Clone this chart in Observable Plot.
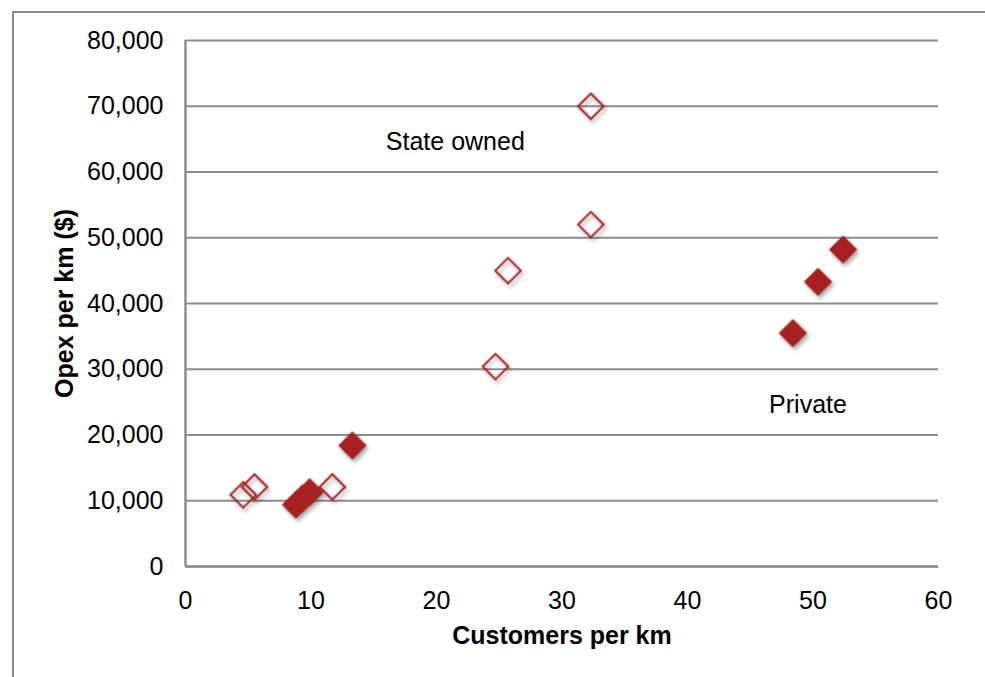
<!DOCTYPE html>
<html>
<head>
<meta charset="utf-8">
<script src="https://cdn.jsdelivr.net/npm/d3@7"></script>
<script src="https://cdn.jsdelivr.net/npm/@observablehq/plot@0.6"></script>
<style>
  html, body { margin: 0; padding: 0; background: white; overflow: hidden; }
  #wrap { position: relative; width: 985px; height: 677px; }
  #frame { position: absolute; left: 12px; top: 11px; right: -10px; bottom: -10px;
           border-top: 2px solid #8c8c8c; border-left: 2px solid #8c8c8c; pointer-events: none; z-index: 2; }
  .chart g[aria-label="dot"] { filter: drop-shadow(2px 3px 2px rgba(0,0,0,0.35)); }
</style>
</head>
<body>
<div id="wrap"><div id="frame"></div></div>
<script>
// Data
const stateX = [4.6, 5.5, 11.7, 24.7, 25.7, 32.3, 32.3];
const stateY = [10900, 12100, 12100, 30400, 45000, 52000, 70000];
const privateX = [8.8, 9.3, 9.9, 13.3, 48.4, 50.4, 52.4];
const privateY = [9400, 10300, 11300, 18400, 35500, 43300, 48200];

const xTicks = [0, 10, 20, 30, 40, 50, 60];
const yTicks = [0, 10000, 20000, 30000, 40000, 50000, 60000, 70000, 80000];

const labelText = ["State owned", "Private"];
const labelX = [21.5, 49.6];
const labelY = [64600, 24500];

const xTitle = "Customers per km";
const yTitle = "Opex per km ($)";

const stateData = stateX.map((x, i) => ({x, y: stateY[i]}));
const privateData = privateX.map((x, i) => ({x, y: privateY[i]}));
const labels = labelText.map((t, i) => ({t, x: labelX[i], y: labelY[i]}));

const red = "#a6211f";
const gray = "#8c8c8c";

const chart = Plot.plot({
  className: "chart",
  width: 985,
  height: 677,
  marginLeft: 185,
  marginRight: 47,
  marginTop: 40,
  marginBottom: 111,
  style: { fontFamily: "'Liberation Sans', Arial, sans-serif", color: "#000", background: "white" },
  x: { domain: [0, 60] },
  y: { domain: [0, 80000] },
  marks: [
    Plot.gridY(yTicks, { stroke: gray, strokeOpacity: 1, strokeWidth: 2 }),
    Plot.ruleX([0], { stroke: gray, strokeWidth: 2.5 }),
    Plot.ruleY([0], { stroke: gray, strokeWidth: 2.5 }),
    Plot.axisY({ ticks: yTicks, tickSize: 0, tickPadding: 22, tickFormat: d3.format(","), fontSize: 25, label: null }),
    Plot.axisX({ ticks: xTicks, tickSize: 0, tickPadding: 25, fontSize: 25, label: null }),
    Plot.text([xTitle], { frameAnchor: "bottom", dy: 77, text: d => d, fontSize: 25, fontWeight: "bold",
                          textAnchor: "middle", wordSpacing: "5px" }),
    Plot.text([yTitle], { frameAnchor: "left", dx: -121, rotate: -90, text: d => d, fontSize: 25,
                          fontWeight: "bold", textAnchor: "middle", letterSpacing: "1px" }),
    Plot.text(labels, { x: "x", y: "y", text: "t", fontSize: 25, fill: "#000" }),
    Plot.dot(stateData, { x: "x", y: "y", symbol: "diamond2", r: 11.5, stroke: red, strokeWidth: 2, fill: "none" }),
    Plot.dot(privateData, { x: "x", y: "y", symbol: "diamond2", r: 12.3, fill: red, stroke: red, strokeWidth: 1 })
  ]
});
document.getElementById("wrap").appendChild(chart);
</script>
</body>
</html>
